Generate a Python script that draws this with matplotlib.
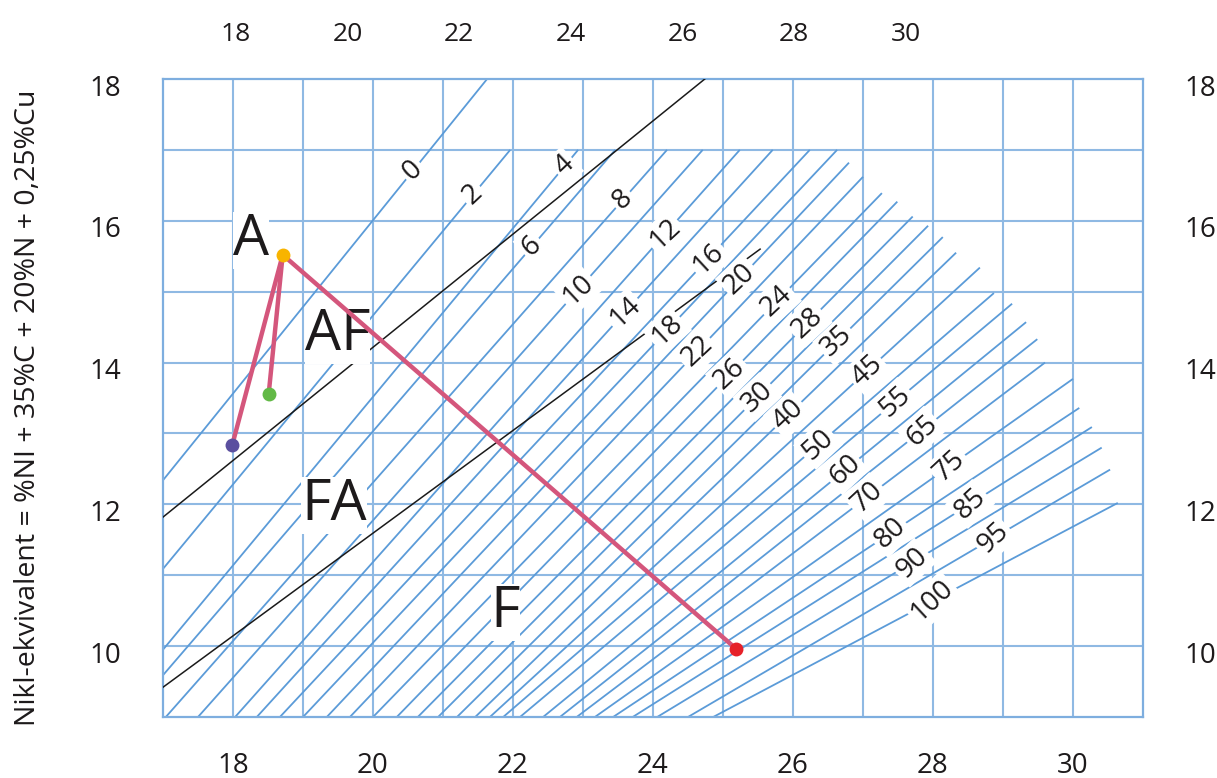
import matplotlib
matplotlib.use("Agg")
import matplotlib.pyplot as plt
from matplotlib.transforms import ScaledTranslation

# ---------------- data ----------------
fn_values = [0, 2, 4, 6, 8, 10, 12, 14, 16, 18, 20, 22, 24, 26, 28, 30,
             35, 40, 45, 50, 55, 60, 65, 70, 75, 80, 85, 90, 95, 100]
# upper end of each iso-ferrite line (Cr-eq, Ni-eq)
fn_top_x = [21.63, 21.96, 22.93, 23.46, 24.20, 24.71, 25.24, 25.71, 26.24, 26.63,
            26.80, 27.00, 27.27, 27.49, 27.71, 27.93, 28.14, 28.33, 28.67, 28.87,
            29.13, 29.33, 29.49, 29.60, 30.00, 30.09, 30.27, 30.41, 30.53, 30.64]
fn_top_y = [18.00, 17.00, 17.00, 17.00, 17.00, 17.00, 17.00, 17.00, 17.00, 17.00,
            16.82, 16.62, 16.39, 16.27, 16.06, 15.93, 15.77, 15.55, 15.34, 14.98,
            14.83, 14.57, 14.33, 14.00, 13.77, 13.36, 13.09, 12.80, 12.49, 12.02]
# lower end of each iso-ferrite line
fn_bot_x = [17.00, 17.00, 17.00, 17.00, 17.04, 17.50, 18.03, 18.34, 18.67, 19.00,
            19.34, 19.67, 20.00, 20.34, 20.64, 20.93, 21.20, 21.46, 21.67, 21.86,
            22.10, 22.43, 22.67, 22.91, 23.17, 23.43, 23.71, 24.06, 24.50, 24.86]
fn_bot_y = [12.34, 11.09, 9.95, 9.59, 9.00, 9.00, 9.00, 9.00, 9.00, 9.00,
            9.00, 9.00, 9.00, 9.00, 9.00, 9.00, 9.00, 9.00, 9.00, 9.00,
            9.00, 9.00, 9.00, 9.00, 9.00, 9.00, 9.00, 9.00, 9.00, 9.00]
# Cr-eq where each FN number is written on its line
fn_label_x = [20.57, 21.43, 22.74, 22.27, 23.57, 22.93, 24.17, 23.60, 24.79, 24.20,
              25.24, 24.63, 25.77, 25.10, 26.21, 25.49, 26.63, 25.93, 27.06, 26.36,
              27.46, 26.74, 27.84, 27.06, 28.24, 27.39, 28.53, 27.70, 28.86, 27.99]

# solidification-mode boundaries (black lines)
boundary_x0 = [17.00, 17.00]
boundary_y0 = [11.82, 9.42]
boundary_x1 = [24.74, 25.53]
boundary_y1 = [18.00, 15.60]

# region labels
region_names = ["A", "AF", "FA", "F"]
region_x = [18.26, 19.49, 19.44, 21.89]
region_y = [15.72, 14.38, 11.98, 10.48]

# alloy points
pt_names = ["start", "end", "purple", "green"]
pt_x = [18.71, 25.19, 17.99, 18.51]
pt_y = [15.52, 9.96, 12.84, 13.56]
pt_colors = ["#f8b400", "#e62129", "#5b4f9f", "#62b946"]
# connections (index pairs)
links = [(0, 1), (0, 2), (0, 3)]

x_ticks = [18, 20, 22, 24, 26, 28, 30]
y_ticks = [10, 12, 14, 16, 18]
top_ticks = [18, 20, 22, 24, 26, 28, 30]
# calibration of the upper scale: its 18 and 30 sit at these lower-scale values
top_cal_lo, top_cal_hi = 18.04, 27.61

ylabel = "Nikl-ekvivalent = %NI + 35%C + 20%N + 0,25%Cu"

# ---------------- style ----------------
FONT = "Open Sans"
TXT = "#1d1a1b"
GRID = "#8fb9e3"
LINE = "#5b9bd8"
PINK = "#d4567c"

fig = plt.figure(figsize=(12.17, 7.78), dpi=100)
ax = fig.add_axes([163 / 1217, 1 - 717 / 778, 980 / 1217, 638 / 778])
ax.set_xlim(17, 31)
ax.set_ylim(9, 18)

# grid
for gx in range(18, 31):
    ax.axvline(gx, color=GRID, lw=1.5, zorder=1)
for gy in range(10, 18):
    ax.axhline(gy, color=GRID, lw=1.5, zorder=1)
for s in ax.spines.values():
    s.set_color("#7eaedf")
    s.set_linewidth(1.6)

# iso-ferrite lines and labels
for fn, x0, y0, x1, y1, lx in zip(fn_values, fn_bot_x, fn_bot_y, fn_top_x, fn_top_y, fn_label_x):
    ax.plot([x0, x1], [y0, y1], color=LINE, lw=1.3, zorder=2, solid_capstyle="butt")
    ly = y0 + (lx - x0) * (y1 - y0) / (x1 - x0)
    ax.text(lx, ly, str(fn), rotation=43, rotation_mode="anchor", ha="center", va="center",
            fontsize=20, family=FONT, color=TXT, zorder=4,
            bbox=dict(boxstyle="square,pad=0.1", fc="white", ec="none"))

# boundaries
for x0, y0, x1, y1 in zip(boundary_x0, boundary_y0, boundary_x1, boundary_y1):
    ax.plot([x0, x1], [y0, y1], color="#1a1a1a", lw=1.1, zorder=3)

# regions
for name, rx, ry in zip(region_names, region_x, region_y):
    ax.text(rx, ry, name, ha="center", va="center", fontsize=41, family=FONT,
            color=TXT, zorder=5,
            bbox=dict(boxstyle="square,pad=0.0", fc="white", ec="none"))

# alloy path
for i, j in links:
    ax.plot([pt_x[i], pt_x[j]], [pt_y[i], pt_y[j]], color=PINK, lw=3.2, zorder=6,
            solid_capstyle="round")
for px, py, c in zip(pt_x, pt_y, pt_colors):
    ax.plot(px, py, "o", ms=10, color=c, mec="none", zorder=7)

# axes ticks
ax.set_xticks(x_ticks)
ax.set_yticks(y_ticks)
ax.tick_params(axis="x", length=0, pad=25, labelsize=20, labelcolor=TXT)
ax.tick_params(axis="y", length=0, pad=30, labelsize=20, labelcolor=TXT,
               labelleft=True, labelright=True)
for lab in ax.get_xticklabels() + ax.get_yticklabels():
    lab.set_family(FONT)
shift = ScaledTranslation(0, -6 / 100, fig.dpi_scale_trans)
for t in ax.yaxis.get_major_ticks():
    t.label1.set_transform(t.label1.get_transform() + shift)
    t.label2.set_transform(t.label2.get_transform() + shift)
    t.label1.set_family(FONT)
    t.label2.set_family(FONT)

b = (top_cal_hi - top_cal_lo) / (top_ticks[-1] - top_ticks[0])
a = top_cal_lo - b * top_ticks[0]
sec = ax.secondary_xaxis("top", functions=(lambda x: (x - a) / b, lambda t: a + b * t))
sec.set_xticks(top_ticks)
sec.tick_params(length=0, pad=23, labelsize=19, labelcolor=TXT)
for lab in sec.get_xticklabels():
    lab.set_family(FONT)
sec.spines["top"].set_visible(False)

fig.text(28 / 1217, 1 - 408 / 778, ylabel, rotation=90, ha="center", va="center",
         fontsize=20.5, family=FONT, color=TXT)

fig.savefig("out.png", dpi=100)
